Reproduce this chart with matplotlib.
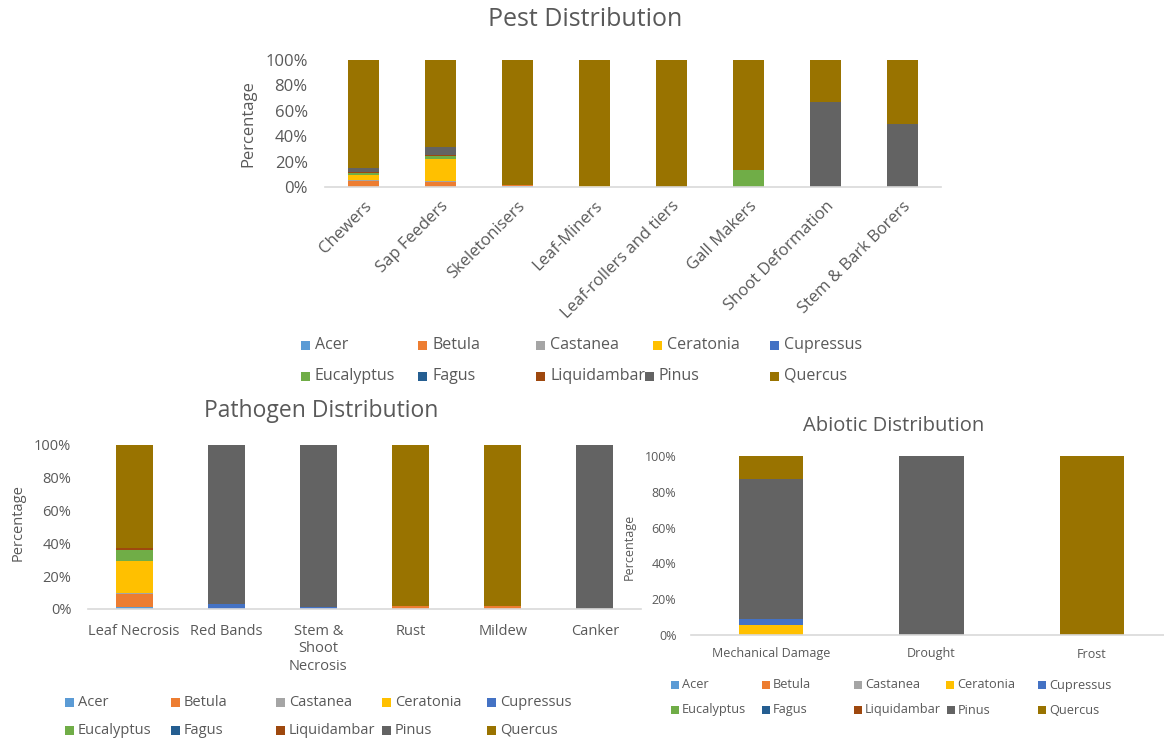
import numpy as np
import matplotlib
matplotlib.use("Agg")
import matplotlib.pyplot as plt
from matplotlib.ticker import PercentFormatter
from matplotlib.patches import Rectangle

plt.rcParams["font.family"] = ["Open Sans", "DejaVu Sans"]

W, H = 1164, 740
TEXT = "#595959"
AXIS = "#D9D9D9"

species = ["Acer", "Betula", "Castanea", "Ceratonia", "Cupressus",
           "Eucalyptus", "Fagus", "Liquidambar", "Pinus", "Quercus"]
species_colors = ["#5B9BD5", "#ED7D31", "#A5A5A5", "#FFC000", "#4472C4",
                  "#70AD47", "#255E91", "#9E480E", "#636363", "#997300"]

# Pest groups (share of records per host genus, %)
pest_categories = ["Chewers", "Sap Feeders", "Skeletonisers", "Leaf-Miners",
                   "Leaf-rollers and tiers", "Gall Makers", "Shoot Deformation",
                   "Stem & Bark Borers"]
pest_acer = [0, 0, 1.0, 0, 0, 0, 0, 0]
pest_betula = [4.7, 4.2, 0.4, 0, 0, 0, 0, 0]
pest_castanea = [0.8, 0.6, 0, 0, 0, 0, 0, 0]
pest_ceratonia = [3.9, 17.0, 0, 0.8, 0, 0, 0, 0]
pest_cupressus = [0, 0, 0, 0, 0, 0, 0, 0]
pest_eucalyptus = [1.6, 2.6, 0, 0, 0, 13.6, 0, 0]
pest_fagus = [0, 0, 0, 0, 0, 0, 0, 0]
pest_liquidambar = [0.5, 1.0, 0, 0, 0, 0, 0, 0]
pest_pinus = [3.1, 5.8, 0, 0, 0, 0, 66.7, 50.0]
pest_quercus = [85.4, 68.8, 98.6, 99.2, 100, 86.4, 33.3, 50.0]

# Pathogen groups (%)
pathogen_categories = ["Leaf Necrosis", "Red Bands", "Stem &\nShoot\nNecrosis",
                       "Rust", "Mildew", "Canker"]
pathogen_acer = [1.0, 0, 0, 0, 0, 0]
pathogen_betula = [8.1, 0, 0, 2.0, 2.0, 0]
pathogen_castanea = [0.8, 0, 0, 0, 0, 0]
pathogen_ceratonia = [19.6, 0, 0, 0, 0, 0]
pathogen_cupressus = [0, 3.3, 1.0, 0, 0, 0]
pathogen_eucalyptus = [6.7, 0, 0, 0, 0, 0]
pathogen_fagus = [0, 0, 0, 0, 0, 0]
pathogen_liquidambar = [1.0, 0, 0, 0, 0, 0]
pathogen_pinus = [0, 96.7, 99.0, 0, 0, 100]
pathogen_quercus = [62.8, 0, 0, 98.0, 98.0, 0]

# Abiotic damage (%)
abiotic_categories = ["Mechanical Damage", "Drought", "Frost"]
abiotic_acer = [0, 0, 0]
abiotic_betula = [0, 0, 0]
abiotic_castanea = [0, 0, 0]
abiotic_ceratonia = [5.8, 0, 0]
abiotic_cupressus = [3.3, 0, 0]
abiotic_eucalyptus = [0, 0, 0]
abiotic_fagus = [0, 0, 0]
abiotic_liquidambar = [0, 0, 0]
abiotic_pinus = [78.1, 100, 0]
abiotic_quercus = [12.8, 0, 100]

pest_table = [pest_acer, pest_betula, pest_castanea, pest_ceratonia, pest_cupressus,
              pest_eucalyptus, pest_fagus, pest_liquidambar, pest_pinus, pest_quercus]
pathogen_table = [pathogen_acer, pathogen_betula, pathogen_castanea, pathogen_ceratonia,
                  pathogen_cupressus, pathogen_eucalyptus, pathogen_fagus,
                  pathogen_liquidambar, pathogen_pinus, pathogen_quercus]
abiotic_table = [abiotic_acer, abiotic_betula, abiotic_castanea, abiotic_ceratonia,
                 abiotic_cupressus, abiotic_eucalyptus, abiotic_fagus,
                 abiotic_liquidambar, abiotic_pinus, abiotic_quercus]

fig = plt.figure(figsize=(W / 100, H / 100), dpi=100)


def px_axes(left, right, top, bottom):
    return fig.add_axes([left / W, 1 - bottom / H, (right - left) / W, (bottom - top) / H])


def stacked(ax, categories, table, tick_size, ypad, xpad, rot=0):
    x = np.arange(len(categories))
    base = np.zeros(len(categories))
    for vals, col in zip(table, species_colors):
        v = np.array(vals, dtype=float) / 100.0
        ax.bar(x, v, 0.4, bottom=base, color=col, linewidth=0)
        base += v
    ax.set_xlim(-0.5, len(categories) - 0.5)
    ax.set_ylim(0, 1)
    ax.set_yticks(np.linspace(0, 1, 6))
    ax.yaxis.set_major_formatter(PercentFormatter(1.0, decimals=0))
    ax.set_xticks(x)
    if rot:
        ax.set_xticklabels(categories, rotation=rot, ha="right", rotation_mode="anchor")
    else:
        ax.set_xticklabels(categories, linespacing=1.25)
    for s in ("top", "right", "left"):
        ax.spines[s].set_visible(False)
    ax.spines["bottom"].set_color(AXIS)
    ax.spines["bottom"].set_linewidth(1.2)
    ax.tick_params(length=0, labelsize=tick_size, colors=TEXT)
    ax.tick_params(axis="y", pad=ypad)
    ax.tick_params(axis="x", pad=xpad)


def legend_block(row1_x, row2_x, row_y, box, size, gap):
    for i, (name, col) in enumerate(zip(species, species_colors)):
        r, c = divmod(i, 5)
        xm = row1_x[c] if r == 0 else row2_x[c]
        ym = row_y[r]
        fig.patches.append(Rectangle((xm / W, 1 - (ym + box / 2) / H), box / W, box / H,
                                     transform=fig.transFigure, color=col, linewidth=0))
        fig.text((xm + box + gap) / W, 1 - ym / H, name, fontsize=size, color=TEXT,
                 ha="left", va="center")


# Pest chart
ax1 = px_axes(325, 941, 60, 187)
stacked(ax1, pest_categories, pest_table, 12, 12.5, 8, rot=45)
fig.text(585 / W, 1 - 20 / H, "Pest Distribution", fontsize=18, color=TEXT,
         ha="center", va="center")
fig.text(248 / W, 1 - 124 / H, "Percentage", fontsize=12, color=TEXT,
         rotation=90, ha="center", va="center")
legend_block([301, 418, 536, 653, 770], [301, 418, 536, 645, 770], [345, 376], 9, 11.5, 5)

# Pathogen chart
ax2 = px_axes(88, 641, 445, 609)
stacked(ax2, pathogen_categories, pathogen_table, 10.5, 12, 10.5)
fig.text(321 / W, 1 - 411 / H, "Pathogen Distribution", fontsize=16.5, color=TEXT,
         ha="center", va="center")
fig.text(18 / W, 1 - 523 / H, "Percentage", fontsize=10.5, color=TEXT,
         rotation=90, ha="center", va="center")
legend_block([65, 171, 276, 382, 487], [65, 171, 276, 382, 487], [702, 730], 9, 10.5, 4)

# Abiotic chart
ax3 = px_axes(691, 1172, 456, 635)
stacked(ax3, abiotic_categories, abiotic_table, 9, 10.5, 9)
fig.text(894 / W, 1 - 426 / H, "Abiotic Distribution", fontsize=14.5, color=TEXT,
         ha="center", va="center")
fig.text(629 / W, 1 - 547 / H, "Percentage", fontsize=9, color=TEXT,
         rotation=90, ha="center", va="center")
legend_block([671, 762, 854, 946, 1038], [671, 762, 854, 947, 1038], [685, 710], 8, 9.2, 3)

fig.savefig("out.png", dpi=100, facecolor="white")
